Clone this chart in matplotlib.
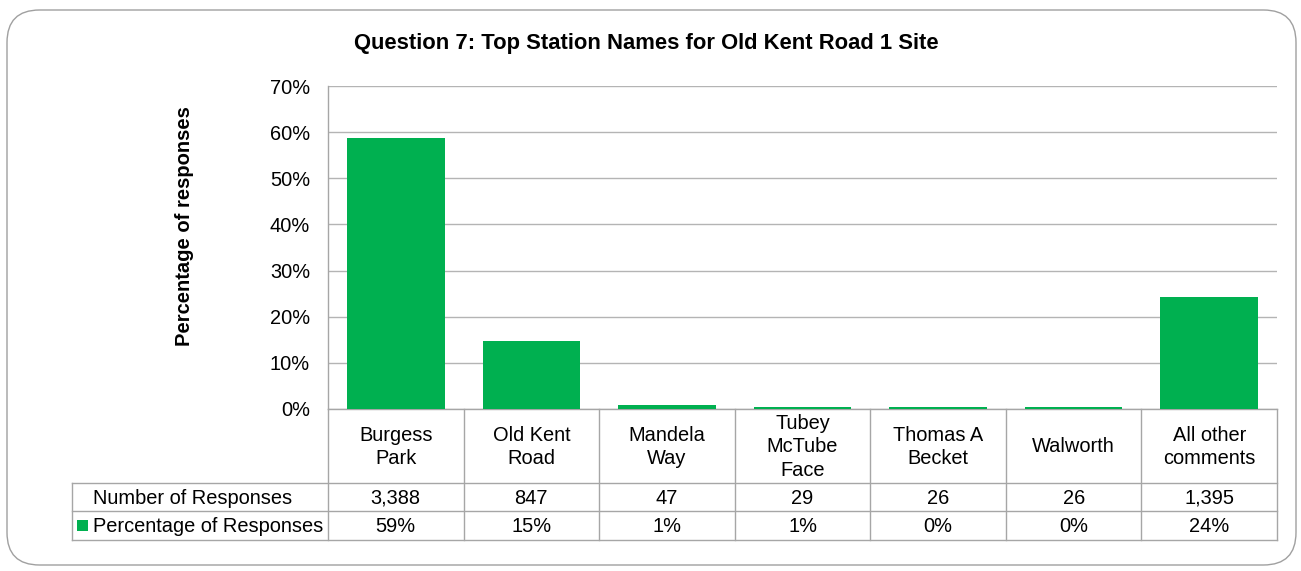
import matplotlib
matplotlib.use("Agg")
import matplotlib.pyplot as plt
from matplotlib.patches import FancyBboxPatch, Rectangle
from matplotlib.lines import Line2D
from matplotlib.ticker import FuncFormatter, MultipleLocator

plt.rcParams['font.family'] = ['Liberation Sans', 'DejaVu Sans']

categories = ["Burgess\nPark", "Old Kent\nRoad", "Mandela\nWay", "Tubey\nMcTube\nFace",
              "Thomas A\nBecket", "Walworth", "All other\ncomments"]
percentages = [58.8, 14.7, 0.9, 0.5, 0.45, 0.45, 24.2]
responses = ["3,388", "847", "47", "29", "26", "26", "1,395"]
pct_labels = ["59%", "15%", "1%", "1%", "0%", "0%", "24%"]

GREEN = "#00B050"
GRID = "#B4B4B4"
TBL = "#A6A6A6"
W, H = 1301, 571
FS = 14.4

fig = plt.figure(figsize=(W / 100, H / 100), dpi=100)
fig.patch.set_facecolor("white")

# rounded frame
frame = FancyBboxPatch((7 / W, 6 / H), (1296 - 7) / W, (565 - 10) / H,
                       boxstyle="round,pad=0,rounding_size=0.025",
                       transform=fig.transFigure, facecolor="none",
                       edgecolor="#A0A0A0", linewidth=1.0, mutation_aspect=W / H, zorder=-5)
fig.add_artist(frame)

ax_l, ax_r, ax_t, ax_b = 328, 1277, 86, 409
ax = fig.add_axes([ax_l / W, 1 - ax_b / H, (ax_r - ax_l) / W, (ax_b - ax_t) / H])
ax.set_facecolor("none")
n = len(categories)
x = list(range(n))
ax.bar(x, percentages, width=0.72, color=GREEN, zorder=3)
ax.set_xlim(-0.5, n - 0.5)
ax.set_ylim(0, 70)
ax.yaxis.set_major_locator(MultipleLocator(10))
ax.yaxis.set_major_formatter(FuncFormatter(lambda v, p: f"{v:.0f}%"))
ax.grid(axis="y", color=GRID, linewidth=1.0, zorder=0)
ax.set_xticks([])
ax.tick_params(axis="y", length=0, pad=13, labelsize=FS, colors="#000000")
for s in ["top", "right", "bottom"]:
    ax.spines[s].set_visible(False)
ax.spines["left"].set_color(TBL)
ax.spines["left"].set_linewidth(1.0)

# table geometry in axes coordinates
axh = ax_b - ax_t
axw = ax_r - ax_l
def yy(py):
    return -(py - ax_b) / axh
def xx(px):
    return (px - ax_l) / axw

ax.set_ylabel("Percentage of responses", fontsize=14.5, fontweight="bold")
ax.yaxis.set_label_coords(xx(184), yy(226), transform=ax.transAxes)
ax.yaxis.label.set_va("center")

fig.text(646 / W, 1 - 44 / H, "Question 7: Top Station Names for Old Kent Road 1 Site",
         ha="center", va="center", fontsize=15.8, fontweight="bold")

rows_y = [409, 483, 511, 540]
left_x = xx(72)
kw = dict(transform=ax.transAxes, color=TBL, linewidth=1.0, clip_on=False)
ax.add_line(Line2D([0, 1], [yy(409), yy(409)], **kw))
for py in rows_y[1:]:
    ax.add_line(Line2D([left_x, 1], [yy(py), yy(py)], **kw))
for i in range(n + 1):
    ax.add_line(Line2D([i / n, i / n], [yy(409), yy(540)], **kw))
ax.add_line(Line2D([left_x, left_x], [yy(483), yy(540)], **kw))

for i in range(n):
    cx = (i + 0.5) / n
    ax.text(cx, yy(447), categories[i], transform=ax.transAxes, ha="center", va="center",
            fontsize=FS, linespacing=1.33)
    ax.text(cx, yy(498.5), responses[i], transform=ax.transAxes, ha="center", va="center", fontsize=FS)
    ax.text(cx, yy(527), pct_labels[i], transform=ax.transAxes, ha="center", va="center", fontsize=FS)

ax.text(xx(93), yy(498.5), "Number of Responses", transform=ax.transAxes, ha="left", va="center", fontsize=FS)
ax.text(xx(93), yy(527), "Percentage of Responses", transform=ax.transAxes, ha="left", va="center", fontsize=FS)
ax.add_patch(Rectangle((xx(77), yy(531)), xx(88) - xx(77), yy(520) - yy(531),
                       transform=ax.transAxes, facecolor=GREEN, edgecolor="none", clip_on=False))

fig.savefig("out.png", dpi=100, facecolor="white")
